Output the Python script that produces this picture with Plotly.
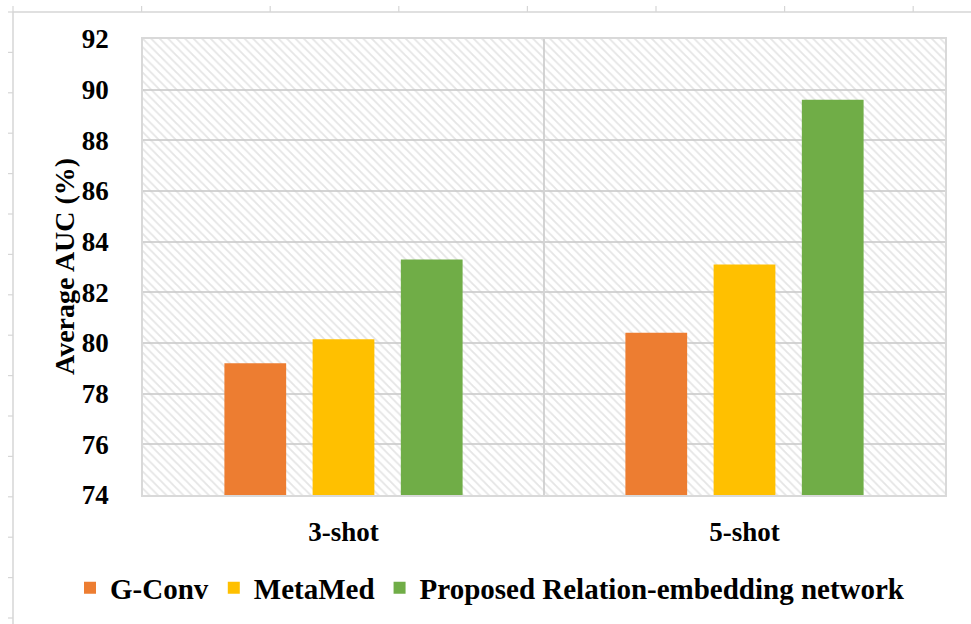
import plotly.graph_objects as go

# Data
categories = ["3-shot", "5-shot"]
series_names = ["G-Conv", "MetaMed", "Proposed Relation-embedding network"]
gconv = [79.2, 80.4]
metamed = [80.15, 83.1]
proposed = [83.3, 89.6]
series_values = [gconv, metamed, proposed]
colors = ["#ED7D31", "#FFC000", "#70AD47"]
y_ticks = list(range(74, 93, 2))
y_title = "Average AUC (%)"

Y_MIN, Y_MAX = 74, 92
FONT = "Liberation Serif"

# Plot-area geometry in pixels (used for margins and frame decorations)
W_PX, H_PX = 971, 624
L, R, T, B = 143, 945, 39, 495


def px_to_paper(px, py):
    return (px - L) / (R - L), (B - py) / (B - T)


fig = go.Figure()

# Hatched plot-area background on the base axes
fig.add_trace(go.Bar(
    x=[1], y=[Y_MAX - Y_MIN], base=[Y_MIN], width=[2],
    xaxis="x", yaxis="y",
    marker=dict(
        color="rgba(0,0,0,0)",
        line=dict(width=0),
        pattern=dict(shape="\\", size=6, solidity=0.3,
                     fgcolor="#cbcbcb", bgcolor="rgba(0,0,0,0)",
                     fillmode="overlay"),
    ),
    showlegend=False, hoverinfo="skip",
))

# Data bars on the overlaid categorical axes
for name, vals, col in zip(series_names, series_values, colors):
    fig.add_trace(go.Bar(
        x=categories, y=vals, name=name,
        xaxis="x2", yaxis="y2",
        marker=dict(color=col, line=dict(width=0)),
    ))

# Frame decorations: ruler-like lines on the top and left edges
shapes = []
grey = "#d6d6d6"
x0, y_top = px_to_paper(13, 12)
x1, _ = px_to_paper(W_PX, 12)
shapes.append(dict(type="line", xref="paper", yref="paper",
                   x0=x0, x1=x1, y0=y_top, y1=y_top,
                   line=dict(color=grey, width=1.5)))
_, y_bot = px_to_paper(13, H_PX)
shapes.append(dict(type="line", xref="paper", yref="paper",
                   x0=x0, x1=x0, y0=y_top, y1=y_bot,
                   line=dict(color=grey, width=1.5)))
for k in range(8):
    tx, _ = px_to_paper(13 + k * 128.6, 12)
    _, ty = px_to_paper(0, 6)
    shapes.append(dict(type="line", xref="paper", yref="paper",
                       x0=tx, x1=tx, y0=y_top, y1=ty,
                       line=dict(color=grey, width=1.2)))
for k in range(16):
    _, ty = px_to_paper(0, 12 + k * 40.4)
    tx0, _ = px_to_paper(13, 0)
    tx1, _ = px_to_paper(8, 0)
    shapes.append(dict(type="line", xref="paper", yref="paper",
                       x0=tx0, x1=tx1, y0=ty, y1=ty,
                       line=dict(color=grey, width=1.2)))

# Rotated y-axis title placed as an annotation
title_x, title_y = px_to_paper(64, 267)
annotations = [dict(
    text=y_title, xref="paper", yref="paper", x=title_x, y=title_y,
    xanchor="center", yanchor="middle", textangle=-90, showarrow=False,
    font=dict(family=FONT, size=28, color="#000000", weight="bold"),
)]

axis_line = "#d9d9d9"
legend_x, legend_y = px_to_paper(70, 588)
fig.update_layout(
    width=W_PX, height=H_PX,
    margin=dict(l=L, r=W_PX - R, t=T, b=H_PX - B, autoexpand=False),
    paper_bgcolor="white", plot_bgcolor="white",
    barmode="group", bargap=0.34, bargroupgap=0.3,
    font=dict(family=FONT, color="#000000"),
    xaxis=dict(range=[0, 2], tick0=0, dtick=1, showticklabels=False,
               showgrid=True, gridcolor="#d4d4d4", gridwidth=1.5,
               zeroline=False, showline=True, linecolor=axis_line,
               linewidth=1.5, mirror=True, ticks=""),
    yaxis=dict(range=[Y_MIN, Y_MAX], tickvals=y_ticks,
               showgrid=True, gridcolor="#d4d4d4", gridwidth=1.5,
               zeroline=False, showline=True, linecolor=axis_line,
               linewidth=1.5, mirror=True, ticks="",
               ticklabelstandoff=27,
               tickfont=dict(family=FONT, size=27, color="#000000",
                             weight="bold")),
    xaxis2=dict(overlaying="x", type="category", side="bottom",
                showgrid=False, zeroline=False, showline=False, ticks="",
                ticklabelstandoff=18,
                tickfont=dict(family=FONT, size=27, color="#000000",
                              weight="bold")),
    yaxis2=dict(overlaying="y", range=[Y_MIN, Y_MAX], visible=False),
    legend=dict(orientation="h", x=legend_x, xanchor="left",
                y=legend_y, yanchor="middle",
                font=dict(family=FONT, size=29, color="#000000",
                          weight="bold"),
                bgcolor="rgba(0,0,0,0)"),
    annotations=annotations,
    shapes=shapes,
)

fig.write_html("out.html")
